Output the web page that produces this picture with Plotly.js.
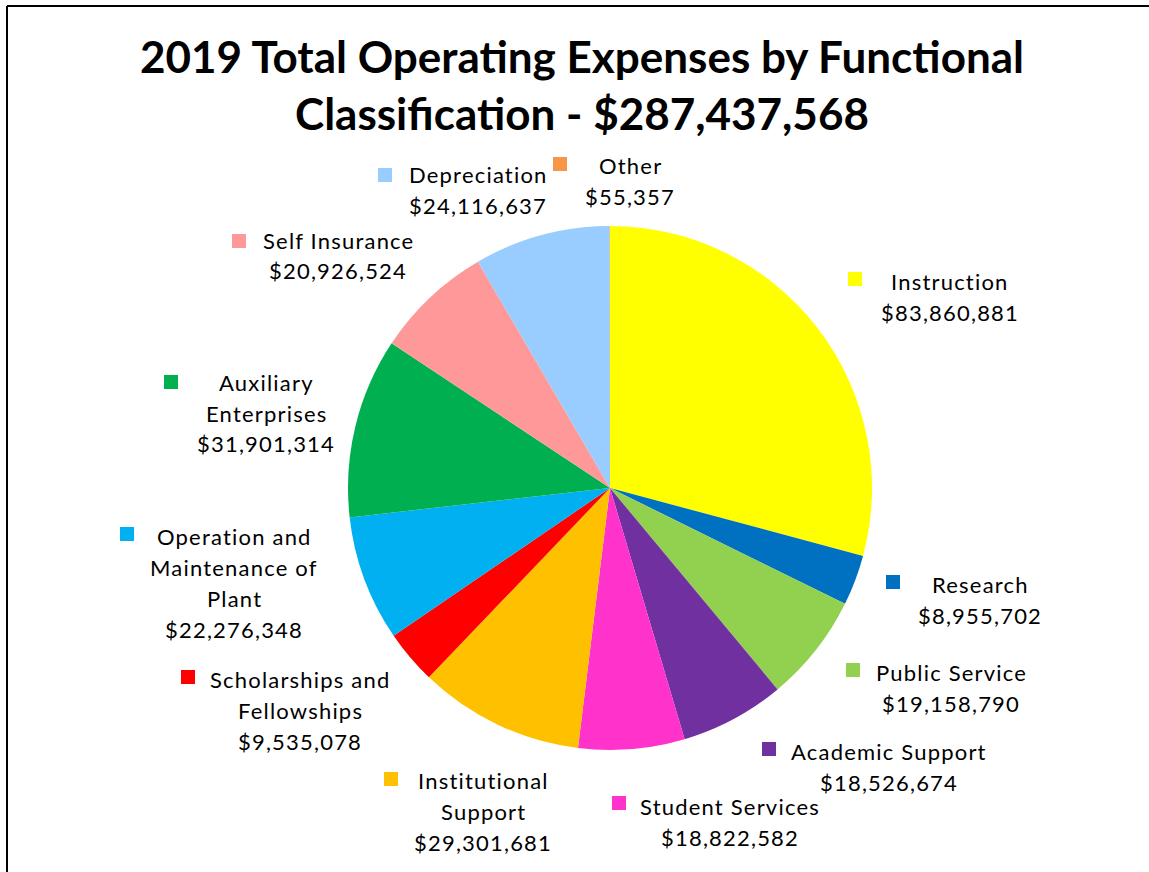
<!DOCTYPE html>
<html>
<head>
<meta charset="utf-8">
<script src="https://cdn.plot.ly/plotly-3.0.1.min.js"></script>
<style>
  html, body { margin: 0; padding: 0; background: #fff; }
  #chart { width: 1149px; height: 872px; }
  .annotation-text { letter-spacing: 1.2px; }
</style>
</head>
<body>
<div id="chart"></div>
<script>
// ---- Data ----
const categories = [
  "Instruction", "Research", "Public Service", "Academic Support",
  "Student Services", "Institutional Support", "Scholarships and Fellowships",
  "Operation and Maintenance of Plant", "Auxiliary Enterprises",
  "Self Insurance", "Depreciation", "Other"
];
const values = [
  83860881, 8955702, 19158790, 18526674,
  18822582, 29301681, 9535078,
  22276348, 31901314,
  20926524, 24116637, 55357
];
const labelLines = [
  ["Instruction"], ["Research"], ["Public Service"], ["Academic Support"],
  ["Student Services"], ["Institutional", "Support"], ["Scholarships and", "Fellowships"],
  ["Operation and", "Maintenance of", "Plant"], ["Auxiliary", "Enterprises"],
  ["Self Insurance"], ["Depreciation"], ["Other"]
];
const totalLabel = "$287,437,568";
const titleText = "2019 Total Operating Expenses by Functional<br>Classification - " + totalLabel;

// ---- Styles / layout ----
const colors = [
  "#FFFF00", "#0070C0", "#92D050", "#7030A0",
  "#FF33CC", "#FFC000", "#FF0000",
  "#00B0F0", "#00B050",
  "#FF9999", "#99CCFF", "#F79646"
];
const W = 1149, H = 872;
// label placement in pixels: [squareLeft, squareTop, textCenterX, firstLineCenterY]
const labelPos = [
  [848, 272, 950, 281],
  [886, 575, 980, 584],
  [846, 663, 951, 672],
  [762, 742, 889, 751],
  [612, 796, 730, 806],
  [384, 772, 483, 780],
  [181, 670, 300, 679],
  [120, 527, 234, 536],
  [164, 375, 266, 382],
  [232, 234, 338, 240],
  [378, 168, 478, 175],
  [553, 157, 630, 165]
];
const lineGap = 31;
const sq = 14;

const px = x => x / W;
const py = y => 1 - y / H;
const fmt = v => "$" + v.toLocaleString("en-US");

const annotations = [];
const shapes = [];
labelPos.forEach((p, i) => {
  const lines = labelLines[i].concat([fmt(values[i])]);
  lines.forEach((t, k) => {
    annotations.push({
      text: t, showarrow: false, xref: "paper", yref: "paper",
      x: px(p[2]), y: py(p[3] + k * lineGap),
      xanchor: "center", yanchor: "middle",
      font: { family: "Lato, 'Open Sans', sans-serif", size: 22, color: "#000" }
    });
  });
  shapes.push({
    type: "rect", xref: "paper", yref: "paper",
    x0: px(p[0]), x1: px(p[0] + sq), y0: py(p[1] + sq), y1: py(p[1]),
    fillcolor: colors[i], line: { width: 0 }
  });
});
// chart-area border (top and left edges)
shapes.push({ type: "line", xref: "paper", yref: "paper", x0: px(7), x1: 1, y0: py(6), y1: py(6), line: { color: "#000", width: 2 } });
shapes.push({ type: "line", xref: "paper", yref: "paper", x0: px(7), x1: px(7), y0: py(6), y1: 0, line: { color: "#000", width: 2 } });

const trace = {
  type: "pie",
  labels: categories,
  values: values,
  sort: false,
  direction: "clockwise",
  rotation: 0,
  marker: { colors: colors, line: { width: 0 } },
  textinfo: "none",
  hoverinfo: "label+value",
  showlegend: false,
  domain: { x: [px(348), px(872)], y: [py(750), py(226)] }
};

const layout = {
  width: W, height: H,
  margin: { l: 0, r: 0, t: 0, b: 0 },
  paper_bgcolor: "#fff",
  plot_bgcolor: "#fff",
  title: {
    text: titleText,
    x: px(582), xanchor: "center", xref: "paper",
    y: py(73), yanchor: "middle", yref: "paper",
    font: { family: "Lato, 'Open Sans', sans-serif", size: 44, color: "#000", weight: "bold" }
  },
  annotations: annotations,
  shapes: shapes,
  showlegend: false
};

Plotly.newPlot("chart", [trace], layout, { displayModeBar: false, staticPlot: true });
</script>
</body>
</html>
